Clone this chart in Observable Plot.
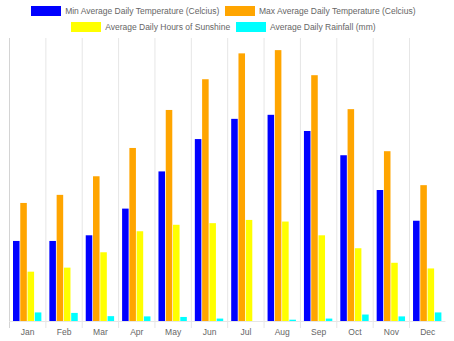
<!DOCTYPE html>
<html>
<head>
<meta charset="utf-8">
<script src="https://cdn.jsdelivr.net/npm/d3@7"></script>
<script src="https://cdn.jsdelivr.net/npm/@observablehq/plot@0.6"></script>
<style>
  html, body { margin: 0; padding: 0; background: #fff; }
  body { width: 454px; height: 341px; overflow: hidden; font-family: "Liberation Sans", Arial, Helvetica, sans-serif; }
  #legend { height: 38px; box-sizing: border-box; padding-top: 2.7px; padding-right: 7px; width: 454px; }
  .row { display: flex; justify-content: center; align-items: center; height: 16px; }
  .item { display: flex; align-items: center; margin: 0 3px; font-size: 8.5px; color: #666; white-space: nowrap; }
  .box { width: 30px; height: 10px; margin-right: 3.7px; }
  #chart svg { display: block; }
</style>
</head>
<body>
<div id="legend"></div>
<div id="chart"></div>
<script>
const months = ["Jan","Feb","Mar","Apr","May","Jun","Jul","Aug","Sep","Oct","Nov","Dec"];
const seriesNames = [
  "Min Average Daily Temperature (Celcius)",
  "Max Average Daily Temperature (Celcius)",
  "Average Daily Hours of Sunshine",
  "Average Daily Rainfall (mm)"
];
const seriesColors = ["#0000ff", "#ffa500", "#ffff00", "#00ffff"];
const minTemp  = [9.9, 9.9, 10.6, 13.9, 18.5, 22.5, 25.0, 25.5, 23.5, 20.5, 16.2, 12.4];
const maxTemp  = [14.6, 15.6, 17.9, 21.4, 26.1, 29.9, 33.1, 33.5, 30.4, 26.2, 21.0, 16.8];
const sunshine = [6.1, 6.6, 8.5, 11.1, 11.9, 12.1, 12.5, 12.3, 10.6, 9.0, 7.2, 6.5];
const rainfall = [1.06, 1.0, 0.6, 0.57, 0.5, 0.3, 0.0, 0.16, 0.3, 0.8, 0.57, 1.06];
const yMax = 35;

const seriesValues = [minTemp, maxTemp, sunshine, rainfall];
const data = [];
months.forEach((m, i) => {
  seriesNames.forEach((s, j) => data.push({month: m, series: s, value: seriesValues[j][i]}));
});

// Legend (HTML, above the SVG)
const legend = document.getElementById("legend");
const rows = [[0, 1], [2, 3]];
rows.forEach(r => {
  const row = document.createElement("div");
  row.className = "row";
  r.forEach(j => {
    const item = document.createElement("div");
    item.className = "item";
    const box = document.createElement("div");
    box.className = "box";
    box.style.background = seriesColors[j];
    const label = document.createElement("span");
    label.textContent = seriesNames[j];
    item.appendChild(box);
    item.appendChild(label);
    row.appendChild(item);
  });
  legend.appendChild(row);
});

const chart = Plot.plot({
  width: 454,
  height: 303,
  marginTop: 0,
  marginLeft: 9,
  marginRight: 8.6,
  marginBottom: 20,
  style: {fontFamily: "'Liberation Sans', Arial, Helvetica, sans-serif", background: "#fff"},
  fx: {domain: months, padding: 0, round: false, label: null, axis: null},
  x: {domain: seriesNames, paddingInner: 0.1, paddingOuter: 0.55, round: false, axis: null},
  y: {domain: [0, yMax], axis: null},
  color: {domain: seriesNames, range: seriesColors},
  marks: [
    Plot.frame({anchor: "left", stroke: "#e6e6e6", strokeWidth: 1, insetBottom: -6}),
    Plot.frame({anchor: "left", stroke: "#d4d4d4", strokeWidth: 1, insetBottom: -6, fx: () => months[0]}),
    Plot.ruleY([0], {stroke: "#e6e6e6", strokeWidth: 1}),
    Plot.barY(data, {fx: "month", x: "series", y: "value", fill: "series"}),
    Plot.axisFx({anchor: "bottom", tickSize: 0, tickPadding: 7, label: null, fontSize: 8.5, color: "#666"})
  ]
});
document.getElementById("chart").appendChild(chart);
</script>
</body>
</html>
